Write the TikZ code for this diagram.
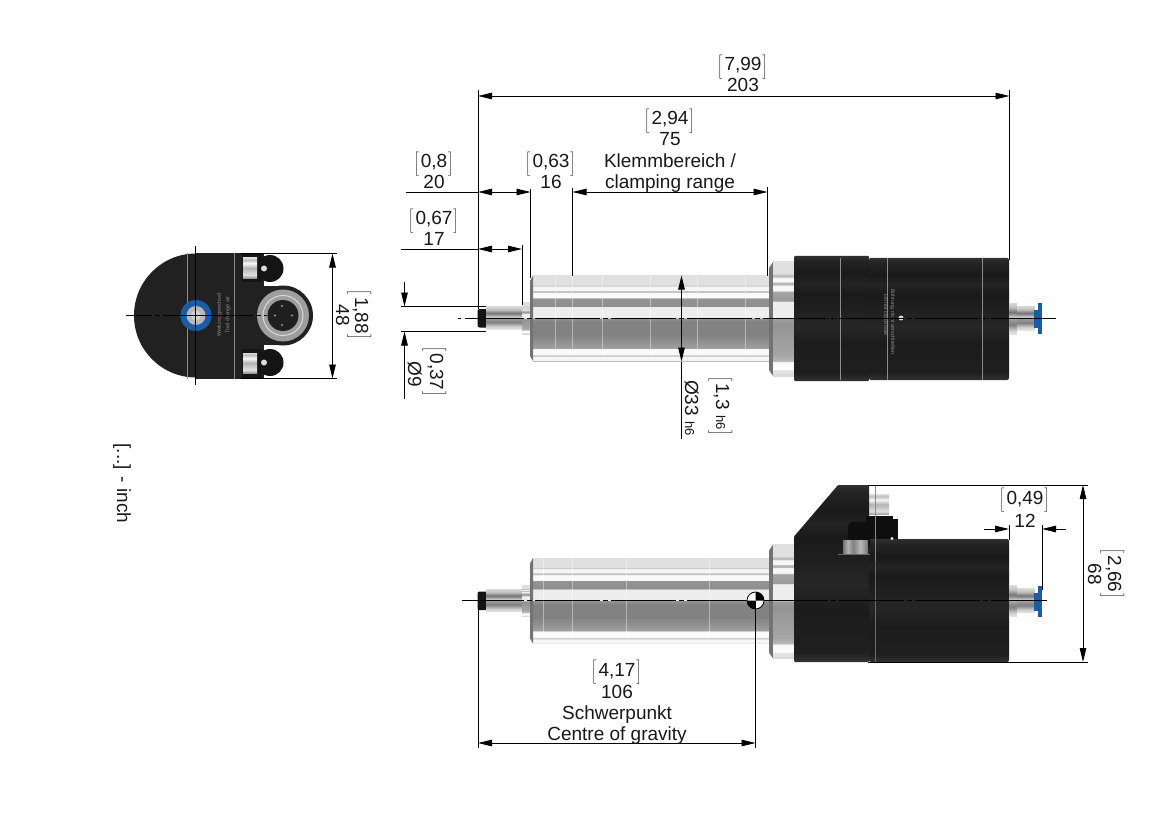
\documentclass[tikz,border=0pt]{standalone}
\usepackage{fontspec}
\setmainfont{Liberation Sans}
\usetikzlibrary{arrows.meta}
\definecolor{bluefit}{HTML}{1A5CA6}
\definecolor{bodyk}{gray}{0.13}
\pgfdeclareverticalshading{shaftS}{100bp}{
color(0bp)=(white!75!black);color(25bp)=(white!75!black);color(25.3bp)=(white!95!black);color(27.35bp)=(white!97!black);
color(27.9bp)=(white!80!black);color(28.5bp)=(white!80!black);color(28.8bp)=(white!98!black);color(32.1bp)=(white!98!black);
color(32.6bp)=(white!62!black);color(40.3bp)=(white!51!black);color(47.9bp)=(white!51!black);color(50bp)=(white!58!black);
color(50.3bp)=(white!93!black);color(56.75bp)=(white!93!black);color(57bp)=(white!56!black);color(61.75bp)=(white!58!black);
color(62bp)=(white!98!black);color(65bp)=(white!98!black);color(65.3bp)=(white!75!black);color(66.2bp)=(white!78!black);
color(66.5bp)=(white!96!black);color(68.5bp)=(white!96!black);color(69.1bp)=(white!78!black);color(69.7bp)=(white!88!black);
color(75bp)=(white!88!black);color(100bp)=(white!88!black)}
\pgfdeclareverticalshading{collarS}{100bp}{
color(0bp)=(white!85!black);color(25bp)=(white!85!black);color(27.6bp)=(white!90!black);color(27.9bp)=(white);
color(31.1bp)=(white!97!black);color(31.6bp)=(white!72!black);color(34.2bp)=(white!65!black);color(47.4bp)=(white!58!black);
color(50.2bp)=(white!62!black);color(50.4bp)=(white!93!black);color(57.5bp)=(white!93!black);color(57.7bp)=(white!60!black);
color(62bp)=(white!65!black);color(62.3bp)=(white!97!black);color(64.5bp)=(white!97!black);color(64.9bp)=(white!72!black);
color(65.8bp)=(white!72!black);color(66.2bp)=(white!97!black);color(67.9bp)=(white!97!black);color(68.3bp)=(white!72!black);
color(69.2bp)=(white!75!black);color(69.6bp)=(white!88!black);color(75bp)=(white!88!black);color(100bp)=(white!88!black)}
\pgfdeclareverticalshading{darkS}{100bp}{
color(0bp)=(white!20!black);color(25bp)=(white!20!black);color(28bp)=(white!12!black);color(40bp)=(white!11!black);
color(47bp)=(white!15!black);color(52bp)=(white!13!black);color(60bp)=(white!10!black);color(64bp)=(white!14!black);color(68bp)=(white!10!black);
color(73bp)=(white!14!black);color(75bp)=(white!19!black);color(100bp)=(white!19!black)}
\pgfdeclareverticalshading{stemS}{100bp}{
color(0bp)=(white!90!black);color(25bp)=(white!90!black);color(31bp)=(white!80!black);color(40bp)=(white!50!black);
color(49bp)=(white!62!black);color(52bp)=(white!80!black);color(60bp)=(white!45!black);color(68bp)=(white!75!black);
color(75bp)=(white!85!black);color(100bp)=(white!85!black)}
\pgfdeclareverticalshading{nutS}{100bp}{
color(0bp)=(white!60!black);color(25bp)=(white!60!black);color(33bp)=(white!88!black);color(50bp)=(white!70!black);
color(62bp)=(white!97!black);color(70bp)=(white!75!black);color(75bp)=(white!85!black);color(100bp)=(white!85!black)}
\pgfdeclarehorizontalshading{nutH}{100bp}{
color(0bp)=(white!45!black);color(25bp)=(white!45!black);color(35bp)=(white!70!black);color(45bp)=(white!50!black);
color(60bp)=(white!72!black);color(75bp)=(white!45!black);color(100bp)=(white!45!black)}
\newcommand\brkh{\vrule height 15pt depth 6pt width 0pt}
\newcommand\brk[1]{\(\left[\brkh\right.\)\kern0.8pt #1\kern0.8pt\(\left]\brkh\right.\)}
\tikzset{
 lbl/.style={font=\fontsize{19}{19}\selectfont,anchor=base,inner sep=0pt,text=black!90},
 lblr/.style={lbl,rotate=-90},
 tiny/.style={font=\fontsize{5.4}{5.4}\selectfont,anchor=center,inner sep=0pt,text=white!55!black,rotate=#1},
 dimline/.style={line width=0.9pt,black},
 both/.style={dimline,{Triangle[length=14pt,width=6.5pt]}-{Triangle[length=14pt,width=6.5pt]}},
 onetip/.style={dimline,-{Triangle[length=14pt,width=6.5pt]}},
 centre/.style={line width=1pt,black},
 seam/.style={line width=0.7pt,white,opacity=0.4},
 bodyseam/.style={line width=0.7pt,white!55!black},
}
\newcommand\spindle{%
 \fill[black!92,rounded corners=2pt] (477.5,-9) rectangle (488,9.5);
 \shade[shading=stemS] (486,-11.5) rectangle (522,11);
 \shade[shading=collarS] (522,-15.5) rectangle (530,16);
 \shade[shading=shaftS] (533,-42.5) rectangle (769,43);
 \fill[white!45!black] (533,-42.5) -- (530,-37) -- (530,38) -- (533,43) -- cycle;
 \fill[white!45!black] (773,-56) -- (769,-50) -- (769,52) -- (773,58) -- cycle;
 \shade[shading=collarS] (773,-56.5) rectangle (794,58);
}
\newcommand\rearfit{%
 \shade[shading=stemS] (1009,-15) rectangle (1017,16);
 \shade[shading=stemS] (1017,-12) rectangle (1035,12);
 \fill[bluefit] (1034,-8) rectangle (1040,10);
 \fill[bluefit] (1038,-15) rectangle (1042,16);
}
\begin{document}
\begin{tikzpicture}[x=1pt,y=-1pt]
\useasboundingbox (0,0) rectangle (1169,826);
\fill[white] (0,0) rectangle (1169,826);
% ---------- left end view
\fill[bodyk] (196,315.5) circle[radius=62];
\fill[bodyk] (196,253.5) rectangle (264,378.5);
\fill[bodyk] (262,286) rectangle (283,345);
\fill[black!92] (270,268.5) circle[radius=13.5];
\fill[black!92] (270,362.5) circle[radius=13.5];
\fill[black!92] (242,253.5) rectangle (262,282);
\fill[black!92] (242,349) rectangle (262,378.5);
\fill[bodyk] (283,315.5) circle[radius=30];
\shade[shading=nutS] (243,258) rectangle (257,278);
\shade[shading=nutS] (243,353) rectangle (257,373);
\fill[white!85!black] (264,268.5) circle[radius=3];
\fill[white!85!black] (264,362.5) circle[radius=3];
\fill[white!62!black] (283,315.5) circle[radius=26];
\draw[white!85!black,line width=1pt] (283,315.5) circle[radius=20];
\fill[black!88] (283,315.5) circle[radius=15.5];
\foreach \pa/\pb in {282/306,282/325,292/315.5,275/315.5}\fill[white!60!black] (\pa,\pb) circle[radius=1.2];
\draw[bodyseam] (187.5,253.5) -- (187.5,378.5);
\draw[bodyseam] (234.5,253.5) -- (234.5,378.5);
\fill[bluefit] (196,315.5) circle[radius=15.5];
\fill[white!72!black] (196,315.5) circle[radius=9.5];
\fill[white!82!black] (196,315.5) circle[radius=5];
\node[tiny=90] (wz) at (219.5,315) {Werkzeugwechsel};
\node[tiny=90] (tc) at (228,315) {Tool change air};
\coordinate (lvW) at (126,315); \coordinate (lvE) at (267,315);
\coordinate (lvN) at (195.5,246); \coordinate (lvS) at (195.5,385);
\draw[centre,dash pattern=on 26pt off 3pt on 5pt off 3pt on 90pt off 3pt on 5pt off 3pt] (lvW) -- (lvE);
\draw[centre] (lvN) -- (lvS);
% 48
\coordinate (d48a) at (332.5,253.5); \coordinate (d48b) at (332.5,378.5);
\coordinate (e48a) at (241,253.5); \coordinate (e48ae) at (337,253.5);
\coordinate (e48b) at (241,378.5); \coordinate (e48be) at (337,378.5);
\draw[dimline] (e48a) -- (e48ae); \draw[dimline] (e48b) -- (e48be);
\draw[both] (d48a) -- (d48b);
\node[lblr] (t48) at (336,315.5) {48};
\node[lblr] (t188) at (355,315.5) {\brk{1,88}};
% ---------- top side view
\begin{scope}[shift={(0,318)}]
 \spindle
 \foreach \sx in {555,572,602,650,697,745} \draw[seam] (\sx,-42) -- (\sx,38);
 \shade[shading=darkS,rounded corners=1pt] (794,-62) rectangle (869,63);
 \shade[shading=darkS,rounded corners=2pt] (869,-60) rectangle (1009,62);
 \foreach \sx in {840.5,887.5,982.5} \draw[bodyseam] (\sx,-60) -- (\sx,62);
 \rearfit
 \fill[white!85!black] (901,0) circle[radius=2.5];
 \node[tiny=-90] (bh1) at (892.5,4) {Bohrung nicht verschließen};
 \node[tiny=-90] (bh2) at (886,-3) {Do not close hole};
\end{scope}
\coordinate (axAa) at (458,318); \coordinate (axAb) at (1057,318);
\draw[centre,dash pattern=on 3pt off 4pt on 59pt off 3pt on 5pt off 3pt on 65pt off 3pt on 5pt off 3pt on 65pt off 3pt on 5pt off 3pt on 65pt off 3pt on 5pt off 3pt on 65pt off 3pt on 5pt off 3pt on 65pt off 3pt on 5pt off 3pt on 65pt off 3pt on 5pt off 3pt on 65pt off 11pt on 2pt off 3pt on 2pt] (axAa) -- (axAb);
% 203
\coordinate (a1) at (478,96); \coordinate (a2) at (1009.5,96);
\coordinate (a1t) at (478,90); \coordinate (a1b) at (478,309);
\coordinate (a2t) at (1009.5,90); \coordinate (a2b) at (1009.5,260);
\draw[dimline] (a1t) -- (a1b); \draw[dimline] (a2t) -- (a2b);
\draw[both] (a1) -- (a2);
\node[lbl] (t799) at (743,71) {\brk{7,99}};
\node[lbl] (t203) at (743,92) {203};
% 20
\coordinate (b0) at (406,192); \coordinate (b1) at (478,192); \coordinate (b2) at (530.5,192);
\coordinate (b2t) at (530.5,189); \coordinate (b2b) at (530.5,278);
\draw[dimline] (b2t) -- (b2b);
\draw[dimline] (b0) -- (b1); \draw[both] (b1) -- (b2);
\node[lbl] (t08) at (434,168) {\brk{0,8}};
\node[lbl] (t20) at (434,189) {20};
% 16 / 75
\coordinate (c1) at (572.5,192); \coordinate (c2) at (767.5,192);
\coordinate (c1t) at (572.5,188); \coordinate (c1b) at (572.5,276);
\coordinate (c2t) at (767.5,187); \coordinate (c2b) at (767.5,276);
\draw[dimline] (c1t) -- (c1b); \draw[dimline] (c2t) -- (c2b);
\draw[both] (c1) -- (c2);
\node[lbl] (t063) at (551,168) {\brk{0,63}};
\node[lbl] (t16) at (551,189) {16};
\node[lbl] (t294) at (670,125) {\brk{2,94}};
\node[lbl] (t75) at (670,146) {75};
\node[lbl] (tk) at (670,168) {Klemmbereich /};
\node[lbl] (tc2) at (670,189) {clamping range};
% 17
\coordinate (f0) at (401,249); \coordinate (f1) at (478,249); \coordinate (f2) at (522,249);
\coordinate (f2t) at (522,245); \coordinate (f2b) at (522,305);
\draw[dimline] (f2t) -- (f2b);
\draw[dimline] (f0) -- (f1); \draw[both] (f1) -- (f2);
\node[lbl] (t067) at (434,225) {\brk{0,67}};
\node[lbl] (t17) at (434,246) {17};
% dia 9
\coordinate (g1) at (401,306.5); \coordinate (g1e) at (486,306.5);
\coordinate (g2) at (401,331.5); \coordinate (g2e) at (486,331.5);
\coordinate (g3) at (404.5,282); \coordinate (g3t) at (404.5,306.5);
\coordinate (g4) at (404.5,399); \coordinate (g4t) at (404.5,331.5);
\draw[dimline] (g1) -- (g1e); \draw[dimline] (g2) -- (g2e);
\draw[onetip] (g3) -- (g3t); \draw[onetip] (g4) -- (g4t);
\node[lblr] (t9) at (408,374) {Ø9};
\node[lblr] (t037) at (430,372) {\brk{0,37}};
% dia 33
\coordinate (h1) at (681.5,275.5); \coordinate (h2) at (681.5,361.5); \coordinate (h3) at (681.5,439);
\draw[dimline] (h2) -- (h3); \draw[both] (h1) -- (h2);
\node[lblr] (t33) at (685,408) {Ø33 {\fontsize{13}{13}\selectfont h6}};
\node[lblr] (t13) at (716,406.5) {\brk{1,3 {\fontsize{13}{13}\selectfont h6}}};
% inch
\node[lblr] (tinch) at (117,483.5) {[...] - inch};
% ---------- lower side view
\begin{scope}[shift={(0,600.5)}]
 \spindle
 \foreach \sx in {543,572.5,626.5,709} \draw[seam] (\sx,-42) -- (\sx,38);
 \shade[shading=nutS] (869,-106) rectangle (889,-86);
 \shade[shading=darkS,rounded corners=1pt] (794,-64) -- (838,-115.5) -- (869,-115.5) -- (869,-40) -- (869,61.5) -- (794,61.5) -- cycle;
 \shade[shading=darkS,rounded corners=2pt] (869,-61.5) rectangle (1009,61.5);
 \fill[black!94] (866,-85) rectangle (893,-61.5);
 \fill[black!94] (893,-82) rectangle (898,-61.5);
 \fill[black!94,rounded corners=5pt] (848,-79) rectangle (870,-50);
 \shade[shading=nutH] (843,-60.5) rectangle (868,-46);
 \draw[white!40!black,line width=0.7pt] (838,-46) -- (870,-46);
 \fill[white!90!black] (892,-62) circle[radius=1.6];
 \draw[bodyseam] (875,-115) -- (875,-40);
 \draw[bodyseam,opacity=0.7] (875,-40) -- (875,61.5);
 \rearfit
\end{scope}
\coordinate (axBa) at (462,600.5); \coordinate (axBb) at (1047,600.5);
\draw[centre,dash pattern=on 65pt off 3pt on 5pt off 3pt,dash phase=3pt] (axBa) -- (axBb);
% centre of gravity
\coordinate (cog) at (755.5,600.5);
\fill[white] (cog) circle[radius=8.5];
\fill[black] (cog) -- (747,600.5) arc[start angle=180,end angle=90,radius=8.5] -- cycle;
\fill[black] (cog) -- (764,600.5) arc[start angle=0,end angle=-90,radius=8.5] -- cycle;
\draw[black,line width=0.8pt] (cog) circle[radius=8.5];
% 68
\coordinate (k1) at (1083,485); \coordinate (k2) at (1083,662);
\coordinate (k1s) at (868,485); \coordinate (k1e) at (1088,485);
\coordinate (k2s) at (868,662); \coordinate (k2e) at (1088,662);
\draw[dimline] (k1s) -- (k1e); \draw[dimline] (k2s) -- (k2e);
\draw[both] (k1) -- (k2);
\node[lblr] (t68) at (1088,574) {68};
\node[lblr] (t266) at (1108,574) {\brk{2,66}};
% 12
\coordinate (m0) at (984,529); \coordinate (m1) at (1009,529);
\coordinate (m2) at (1042,529); \coordinate (m3) at (1066,529);
\coordinate (m1t) at (1009,525); \coordinate (m1b) at (1009,540);
\coordinate (m2t) at (1042,525); \coordinate (m2b) at (1042,590);
\draw[dimline] (m1t) -- (m1b); \draw[dimline] (m2t) -- (m2b);
\draw[onetip] (m0) -- (m1); \draw[onetip] (m3) -- (m2);
\node[lbl] (t049) at (1025,504) {\brk{0,49}};
\node[lbl] (t12) at (1025,527) {12};
% 106
\coordinate (n1) at (478,743); \coordinate (n2) at (755.5,743);
\coordinate (n1t) at (478,608); \coordinate (n1b) at (478,748);
\coordinate (n2b) at (755.5,748);
\draw[dimline] (n1t) -- (n1b); \draw[dimline] (cog) -- (n2b);
\draw[both] (n1) -- (n2);
\node[lbl] (t417) at (617,676) {\brk{4,17}};
\node[lbl] (t106) at (617,698) {106};
\node[lbl] (ts) at (617,719) {Schwerpunkt};
\node[lbl] (tcg) at (617,740) {Centre of gravity};
\end{tikzpicture}
\end{document}
